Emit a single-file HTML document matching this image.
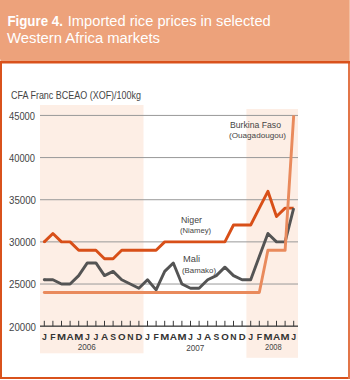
<!DOCTYPE html>
<html><head><meta charset="utf-8"><style>
html,body{margin:0;padding:0;width:350px;height:380px;overflow:hidden;background:#fff;}
body{position:relative;}
svg{position:absolute;left:0;top:0;}
text{font-family:"Liberation Sans",sans-serif;}
</style></head><body>
<svg width="350" height="380" viewBox="0 0 350 380">
<rect x="0" y="0" width="349" height="61" fill="#eda27b"/>
<rect x="349" y="0" width="1" height="61" fill="#f3bd9f"/>
<rect x="0" y="61" width="2" height="318" fill="#d9521c"/>
<rect x="0" y="59.5" width="1" height="1.5" fill="#f5cdb6"/>
<rect x="0" y="377" width="350" height="2" fill="#d9521c"/>
<rect x="348" y="63" width="2" height="316" fill="#e27548"/>
<rect x="0" y="61" width="350" height="2.5" fill="#d9521c"/>
<rect x="40" y="105" width="103.5" height="248.3" fill="#fdeee5"/>
<rect x="246.4" y="109" width="51.6" height="248.8" fill="#fdeee5"/>
<rect x="40" y="283.52" width="258" height="1" fill="#999999"/>
<rect x="40" y="241.37" width="258" height="1" fill="#999999"/>
<rect x="40" y="199.22" width="258" height="1" fill="#999999"/>
<rect x="40" y="157.07" width="258" height="1" fill="#999999"/>
<rect x="40" y="114.92" width="258" height="1" fill="#999999"/>
<rect x="40" y="325.52" width="258" height="1.3" fill="#3a3a3a"/>
<path d="M44.30 320.8V326.17 M52.90 320.8V326.17 M61.50 320.8V326.17 M70.10 320.8V326.17 M78.70 320.8V326.17 M87.30 320.8V326.17 M95.90 320.8V326.17 M104.50 320.8V326.17 M113.10 320.8V326.17 M121.70 320.8V326.17 M130.30 320.8V326.17 M138.90 320.8V326.17 M147.50 320.8V326.17 M156.10 320.8V326.17 M164.70 320.8V326.17 M173.30 320.8V326.17 M181.90 320.8V326.17 M190.50 320.8V326.17 M199.10 320.8V326.17 M207.70 320.8V326.17 M216.30 320.8V326.17 M224.90 320.8V326.17 M233.50 320.8V326.17 M242.10 320.8V326.17 M250.70 320.8V326.17 M259.30 320.8V326.17 M267.90 320.8V326.17 M276.50 320.8V326.17 M285.10 320.8V326.17 M293.70 320.8V326.17" stroke="#3a3a3a" stroke-width="1" fill="none"/>
<polyline points="44.30,241.87 52.90,233.44 61.50,241.87 70.10,241.87 78.70,250.30 87.30,250.30 95.90,250.30 104.50,258.73 113.10,258.73 121.70,250.30 130.30,250.30 138.90,250.30 147.50,250.30 156.10,250.30 164.70,241.87 173.30,241.87 181.90,241.87 190.50,241.87 199.10,241.87 207.70,241.87 216.30,241.87 224.90,241.87 233.50,225.01 242.10,225.01 250.70,225.01 259.30,208.15 267.90,191.29 276.50,216.58 285.10,208.15 293.70,208.15" fill="none" stroke="#d84f18" stroke-width="2.9" stroke-linejoin="round" stroke-linecap="butt"/>
<circle cx="44.30" cy="241.87" r="1.45" fill="#d84f18"/>
<polyline points="44.30,279.81 52.90,279.81 61.50,284.02 70.10,284.02 78.70,275.59 87.30,262.94 95.90,262.94 104.50,275.59 113.10,271.38 121.70,279.81 130.30,284.02 138.90,288.24 147.50,279.81 156.10,289.92 164.70,271.38 173.30,262.94 181.90,284.02 190.50,288.24 199.10,288.24 207.70,279.81 216.30,275.59 224.90,267.16 233.50,275.59 242.10,279.81 250.70,279.81 259.30,256.62 267.90,233.44 276.50,241.87 285.10,241.87 293.70,208.15" fill="none" stroke="#545454" stroke-width="2.9" stroke-linejoin="round" stroke-linecap="butt"/>
<circle cx="44.30" cy="279.81" r="1.45" fill="#545454"/>
<polyline points="44.30,292.45 52.90,292.45 61.50,292.45 70.10,292.45 78.70,292.45 87.30,292.45 95.90,292.45 104.50,292.45 113.10,292.45 121.70,292.45 130.30,292.45 138.90,292.45 147.50,292.45 156.10,292.45 164.70,292.45 173.30,292.45 181.90,292.45 190.50,292.45 199.10,292.45 207.70,292.45 216.30,292.45 224.90,292.45 233.50,292.45 242.10,292.45 250.70,292.45 259.30,292.45 267.90,250.30 276.50,250.30 285.10,250.30 293.70,115.42" fill="none" stroke="#e98a5c" stroke-width="2.9" stroke-linejoin="round" stroke-linecap="butt"/>
<circle cx="44.30" cy="292.45" r="1.45" fill="#e98a5c"/>
<text x="0" y="0" transform="translate(44.30 339.8) scale(1.0 1)" text-anchor="middle" font-size="8.7" font-weight="bold" fill="#333333">J</text>
<text x="0" y="0" transform="translate(52.90 339.8) scale(1.0 1)" text-anchor="middle" font-size="8.7" font-weight="bold" fill="#333333">F</text>
<text x="0" y="0" transform="translate(61.50 339.8) scale(1.25 1)" text-anchor="middle" font-size="8.7" font-weight="bold" fill="#333333">M</text>
<text x="0" y="0" transform="translate(70.10 339.8) scale(1.15 1)" text-anchor="middle" font-size="8.7" font-weight="bold" fill="#333333">A</text>
<text x="0" y="0" transform="translate(78.70 339.8) scale(1.25 1)" text-anchor="middle" font-size="8.7" font-weight="bold" fill="#333333">M</text>
<text x="0" y="0" transform="translate(87.30 339.8) scale(1.0 1)" text-anchor="middle" font-size="8.7" font-weight="bold" fill="#333333">J</text>
<text x="0" y="0" transform="translate(95.90 339.8) scale(1.0 1)" text-anchor="middle" font-size="8.7" font-weight="bold" fill="#333333">J</text>
<text x="0" y="0" transform="translate(104.50 339.8) scale(1.15 1)" text-anchor="middle" font-size="8.7" font-weight="bold" fill="#333333">A</text>
<text x="0" y="0" transform="translate(113.10 339.8) scale(1.0 1)" text-anchor="middle" font-size="8.7" font-weight="bold" fill="#333333">S</text>
<text x="0" y="0" transform="translate(121.70 339.8) scale(1.12 1)" text-anchor="middle" font-size="8.7" font-weight="bold" fill="#333333">O</text>
<text x="0" y="0" transform="translate(130.30 339.8) scale(1.0 1)" text-anchor="middle" font-size="8.7" font-weight="bold" fill="#333333">N</text>
<text x="0" y="0" transform="translate(138.90 339.8) scale(1.1 1)" text-anchor="middle" font-size="8.7" font-weight="bold" fill="#333333">D</text>
<text x="0" y="0" transform="translate(147.50 339.8) scale(1.0 1)" text-anchor="middle" font-size="8.7" font-weight="bold" fill="#333333">J</text>
<text x="0" y="0" transform="translate(156.10 339.8) scale(1.0 1)" text-anchor="middle" font-size="8.7" font-weight="bold" fill="#333333">F</text>
<text x="0" y="0" transform="translate(164.70 339.8) scale(1.25 1)" text-anchor="middle" font-size="8.7" font-weight="bold" fill="#333333">M</text>
<text x="0" y="0" transform="translate(173.30 339.8) scale(1.15 1)" text-anchor="middle" font-size="8.7" font-weight="bold" fill="#333333">A</text>
<text x="0" y="0" transform="translate(181.90 339.8) scale(1.25 1)" text-anchor="middle" font-size="8.7" font-weight="bold" fill="#333333">M</text>
<text x="0" y="0" transform="translate(190.50 339.8) scale(1.0 1)" text-anchor="middle" font-size="8.7" font-weight="bold" fill="#333333">J</text>
<text x="0" y="0" transform="translate(199.10 339.8) scale(1.0 1)" text-anchor="middle" font-size="8.7" font-weight="bold" fill="#333333">J</text>
<text x="0" y="0" transform="translate(207.70 339.8) scale(1.15 1)" text-anchor="middle" font-size="8.7" font-weight="bold" fill="#333333">A</text>
<text x="0" y="0" transform="translate(216.30 339.8) scale(1.0 1)" text-anchor="middle" font-size="8.7" font-weight="bold" fill="#333333">S</text>
<text x="0" y="0" transform="translate(224.90 339.8) scale(1.12 1)" text-anchor="middle" font-size="8.7" font-weight="bold" fill="#333333">O</text>
<text x="0" y="0" transform="translate(233.50 339.8) scale(1.0 1)" text-anchor="middle" font-size="8.7" font-weight="bold" fill="#333333">N</text>
<text x="0" y="0" transform="translate(242.10 339.8) scale(1.1 1)" text-anchor="middle" font-size="8.7" font-weight="bold" fill="#333333">D</text>
<text x="0" y="0" transform="translate(250.70 339.8) scale(1.0 1)" text-anchor="middle" font-size="8.7" font-weight="bold" fill="#333333">J</text>
<text x="0" y="0" transform="translate(259.30 339.8) scale(1.0 1)" text-anchor="middle" font-size="8.7" font-weight="bold" fill="#333333">F</text>
<text x="0" y="0" transform="translate(267.90 339.8) scale(1.25 1)" text-anchor="middle" font-size="8.7" font-weight="bold" fill="#333333">M</text>
<text x="0" y="0" transform="translate(276.50 339.8) scale(1.15 1)" text-anchor="middle" font-size="8.7" font-weight="bold" fill="#333333">A</text>
<text x="0" y="0" transform="translate(285.10 339.8) scale(1.25 1)" text-anchor="middle" font-size="8.7" font-weight="bold" fill="#333333">M</text>
<text x="0" y="0" transform="translate(293.70 339.8) scale(1.0 1)" text-anchor="middle" font-size="8.7" font-weight="bold" fill="#333333">J</text>
<text x="7.40" y="25.50" font-size="14" font-weight="bold" fill="#fff" textLength="55.50" lengthAdjust="spacingAndGlyphs">Figure 4.</text>
<text x="67.80" y="25.50" font-size="14" font-weight="normal" fill="#fff" textLength="202.90" lengthAdjust="spacingAndGlyphs">Imported rice prices in selected</text>
<text x="7.00" y="42.60" font-size="14" font-weight="normal" fill="#fff" textLength="153.00" lengthAdjust="spacingAndGlyphs">Western Africa markets</text>
<text x="11.00" y="98.60" font-size="10.2" font-weight="normal" fill="#454545" textLength="130.00" lengthAdjust="spacingAndGlyphs">CFA Franc BCEAO (XOF)/100kg</text>
<text x="9.00" y="330.57" font-size="10.1" font-weight="normal" fill="#454545" textLength="27.00" lengthAdjust="spacingAndGlyphs">20000</text>
<text x="9.00" y="288.42" font-size="10.1" font-weight="normal" fill="#454545" textLength="27.00" lengthAdjust="spacingAndGlyphs">25000</text>
<text x="9.00" y="246.27" font-size="10.1" font-weight="normal" fill="#454545" textLength="27.00" lengthAdjust="spacingAndGlyphs">30000</text>
<text x="9.00" y="204.12" font-size="10.1" font-weight="normal" fill="#454545" textLength="27.00" lengthAdjust="spacingAndGlyphs">35000</text>
<text x="9.00" y="161.97" font-size="10.1" font-weight="normal" fill="#454545" textLength="26.00" lengthAdjust="spacingAndGlyphs">40000</text>
<text x="9.00" y="119.82" font-size="10.1" font-weight="normal" fill="#454545" textLength="26.00" lengthAdjust="spacingAndGlyphs">45000</text>
<text x="230.00" y="127.60" font-size="9.5" font-weight="normal" fill="#454545" textLength="51.00" lengthAdjust="spacingAndGlyphs">Burkina Faso</text>
<text x="229.00" y="137.90" font-size="8.0" font-weight="normal" fill="#454545" textLength="57.00" lengthAdjust="spacingAndGlyphs">(Ouagadougou)</text>
<text x="181.00" y="223.30" font-size="9.6" font-weight="normal" fill="#454545" textLength="21.00" lengthAdjust="spacingAndGlyphs">Niger</text>
<text x="180.00" y="233.10" font-size="8.0" font-weight="normal" fill="#454545" textLength="31.00" lengthAdjust="spacingAndGlyphs">(Niamey)</text>
<text x="183.00" y="262.40" font-size="9.5" font-weight="normal" fill="#454545" textLength="17.00" lengthAdjust="spacingAndGlyphs">Mali</text>
<text x="182.00" y="272.70" font-size="8.0" font-weight="normal" fill="#454545" textLength="34.00" lengthAdjust="spacingAndGlyphs">(Bamako)</text>
<text x="77.70" y="349.60" font-size="8.5" font-weight="normal" fill="#454545" textLength="18.10" lengthAdjust="spacingAndGlyphs">2006</text>
<text x="186.30" y="350.60" font-size="8.5" font-weight="normal" fill="#454545" textLength="18.10" lengthAdjust="spacingAndGlyphs">2007</text>
<text x="265.00" y="349.60" font-size="8.5" font-weight="normal" fill="#454545" textLength="16.70" lengthAdjust="spacingAndGlyphs">2008</text>
</svg></body></html>
